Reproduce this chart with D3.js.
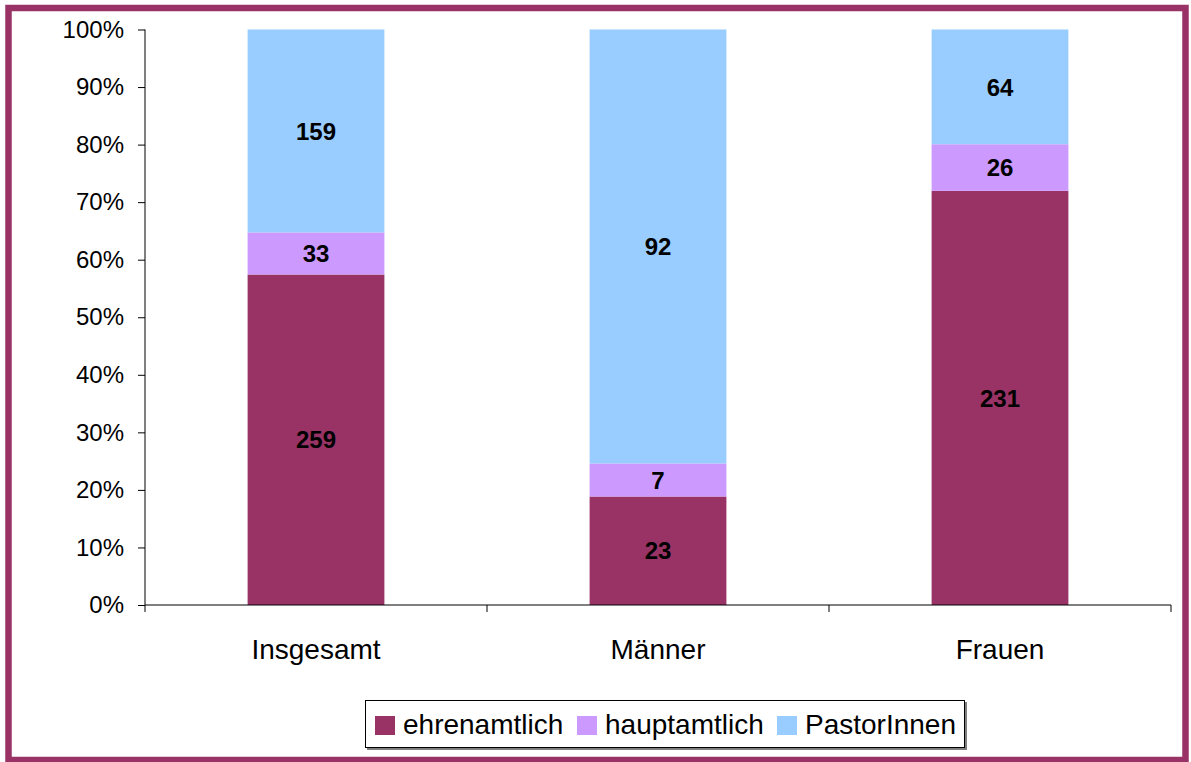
<!DOCTYPE html>
<html><head><meta charset="utf-8">
<script src="https://cdn.jsdelivr.net/npm/d3@7"></script>
<style>body{margin:0;background:#fff}svg{display:block;font-family:"Liberation Sans",Arial,sans-serif}</style>
</head><body>
<svg id="c" width="1191" height="762"></svg>
<script>
const categories = ["Insgesamt", "Männer", "Frauen"];
const seriesNames = ["ehrenamtlich", "hauptamtlich", "PastorInnen"];
const ehrenamtlich = [259, 23, 231];
const hauptamtlich = [33, 7, 26];
const pastorInnen = [159, 92, 64];
const colors = ["#993366", "#CC99FF", "#99CCFF"];
const yTicks = [0, 0.1, 0.2, 0.3, 0.4, 0.5, 0.6, 0.7, 0.8, 0.9, 1.0];

(function () {
const svg = d3.select("#c");
// outer frame
svg.append("rect").attr("x", 8.5).attr("y", 8).attr("width", 1177).attr("height", 752)
  .attr("fill", "#fff").attr("stroke", "#993366").attr("stroke-width", 6.5);

const pLeft = 145, pRight = 1171, pTop = 29.5, pBottom = 605;
const x = d3.scaleBand().domain(categories).range([pLeft, pRight]).paddingInner(0.6).paddingOuter(0.3);
const y = d3.scaleLinear().domain([0, 1]).range([pBottom, pTop]);

const table = categories.map((c, i) => ({cat: c, ehrenamtlich: ehrenamtlich[i], hauptamtlich: hauptamtlich[i], PastorInnen: pastorInnen[i]}));
const stack = d3.stack().keys(seriesNames).offset(d3.stackOffsetExpand);
const series = stack(table);

const g = svg.append("g");
series.forEach((s, si) => {
  g.selectAll(null).data(s).enter().append("rect")
    .attr("x", d => x(d.data.cat))
    .attr("width", x.bandwidth())
    .attr("y", d => y(d[1]))
    .attr("height", d => y(d[0]) - y(d[1]))
    .attr("fill", colors[si]);
  g.selectAll(null).data(s).enter().append("text")
    .attr("x", d => x(d.data.cat) + x.bandwidth() / 2)
    .attr("y", d => (y(d[0]) + y(d[1])) / 2)
    .attr("dy", "0.36em")
    .attr("text-anchor", "middle")
    .attr("font-weight", "bold").attr("font-size", 24).attr("fill", "#000")
    .text(d => d.data[s.key]);
});

// y axis
const yAxis = d3.axisLeft(y).tickValues(yTicks).tickFormat(d3.format(".0%")).tickSize(7).tickPadding(14);
const ya = svg.append("g").attr("transform", `translate(${pLeft},0)`).call(yAxis);
ya.select(".domain").attr("stroke", "#000").attr("d", `M0,${pBottom}V${pTop}`);
ya.selectAll(".tick line").attr("stroke", "#000");
ya.selectAll(".tick text").attr("font-size", 24).attr("fill", "#000").attr("font-family", "Liberation Sans, Arial, sans-serif");

// x axis
const xa = svg.append("g").attr("transform", `translate(0,${pBottom})`);
xa.append("line").attr("x1", pLeft).attr("x2", pRight).attr("y1", 0).attr("y2", 0).attr("stroke", "#000");
const boundaries = d3.range(categories.length + 1).map(i => pLeft + (pRight - pLeft) / categories.length * i);
xa.selectAll(null).data(boundaries).enter().append("line")
  .attr("x1", d => d).attr("x2", d => d).attr("y1", 0).attr("y2", 7).attr("stroke", "#000");
xa.selectAll(null).data(categories).enter().append("text")
  .attr("x", d => x(d) + x.bandwidth() / 2).attr("y", 54)
  .attr("text-anchor", "middle").attr("font-size", 28).attr("fill", "#000")
  .text(d => d);

// legend
const lg = svg.append("g");
lg.append("rect").attr("x", 367).attr("y", 702).attr("width", 600).attr("height", 48).attr("fill", "#808080");
lg.append("rect").attr("x", 365.5).attr("y", 700.5).attr("width", 599).attr("height", 47).attr("fill", "#fff").attr("stroke", "#000");
const legendX = [375, 577, 777];
seriesNames.forEach((n, i) => {
  lg.append("rect").attr("x", legendX[i]).attr("y", 716).attr("width", 20).attr("height", 19).attr("fill", colors[i]);
  lg.append("text").attr("x", legendX[i] + 28).attr("y", 734).attr("font-size", 28).attr("fill", "#000").text(n);
});
})();
</script>
</body></html>
